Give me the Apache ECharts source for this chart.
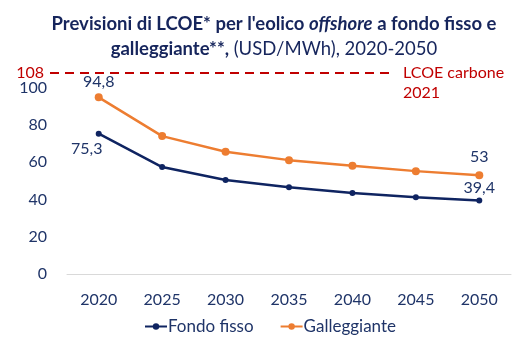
<!DOCTYPE html>
<html>
<head>
<meta charset="utf-8">
<script src="https://cdn.jsdelivr.net/npm/echarts@6/dist/echarts.min.js"></script>
<style>
  html, body { margin: 0; padding: 0; background: #ffffff; }
  #chart { width: 520px; height: 348px; }
</style>
</head>
<body>
<div id="chart"></div>
<script>
// Years on the horizontal axis
const years = ['2020', '2025', '2030', '2035', '2040', '2045', '2050'];
// LCOE, USD/MWh
const fondoFisso = [75.3, 57.4, 50.4, 46.6, 43.5, 41.2, 39.4];
const galleggiante = [94.8, 74.0, 65.6, 61.1, 58.1, 55.2, 53.0];
// Coal LCOE reference (2021)
const carboneValue = 108;
const carboneLabel = 'LCOE carbone\n2021';
const yTicks = [0, 20, 40, 60, 80, 100];

const NAVY = '#0f2461';
const ORANGE = '#ed7d31';
const RED = '#c00000';
const TEXT = '#1f3468';
const FONT = 'Lato, "Noto Sans", sans-serif';

const fmt = v => String(v).replace('.', ',');

// Only first and last values carry a label
function withEndLabels(values, firstLabel, lastLabel) {
  return values.map((v, i) => {
    if (i === 0 && firstLabel) return { value: v, label: Object.assign({ show: true }, firstLabel) };
    if (i === values.length - 1 && lastLabel) return { value: v, label: Object.assign({ show: true }, lastLabel) };
    return v;
  });
}

const labelText = { color: TEXT, fontSize: 16, fontFamily: FONT, formatter: p => fmt(p.value) };

const chart = echarts.init(document.getElementById('chart'));
chart.setOption({
  animation: false,
  title: {
    left: 269,
    top: 7,
    textAlign: 'center',
    text: "{b|Previsioni di LCOE* per l'eolico }{bi|offshore}{b| a fondo fisso e}\n{b|galleggiante**, }{n|(USD/MWh), 2020-2050}",
    textStyle: {
      rich: {
        b: { fontFamily: FONT, fontSize: 18.5, fontWeight: 'bold', color: '#16255c', lineHeight: 25 },
        bi: { fontFamily: FONT, fontSize: 18.5, fontWeight: 'bold', fontStyle: 'italic', color: '#16255c', lineHeight: 25 },
        n: { fontFamily: FONT, fontSize: 18.5, fontWeight: 'normal', color: '#16255c', lineHeight: 25 }
      }
    }
  },
  grid: { left: 67, right: 9, top: 69, bottom: 74 },
  legend: {
    bottom: 8,
    left: 139,
    itemGap: 26,
    itemWidth: 22,
    itemHeight: 8,
    textStyle: { fontFamily: FONT, fontSize: 17, color: TEXT, padding: [0, 0, 0, -4] },
    data: ['Fondo fisso', 'Galleggiante']
  },
  xAxis: {
    type: 'category',
    data: years,
    boundaryGap: true,
    axisLine: { lineStyle: { color: '#d9d9d9', width: 1 } },
    axisTick: { show: false },
    axisLabel: { color: TEXT, fontFamily: FONT, fontSize: 16, margin: 18 }
  },
  yAxis: {
    type: 'value',
    min: yTicks[0],
    max: 110,
    interval: 20,
    axisLine: { show: false },
    axisTick: { show: false },
    splitLine: { show: false },
    axisLabel: { color: TEXT, fontFamily: FONT, fontSize: 16, margin: 20, showMaxLabel: false,
      formatter: v => (yTicks.indexOf(v) >= 0 ? String(v) : '') }
  },
  series: [
    {
      name: 'Fondo fisso',
      type: 'line',
      data: withEndLabels(fondoFisso,
        Object.assign({}, labelText, { position: 'bottom', distance: 4, offset: [-12, 0] }),
        Object.assign({}, labelText, { position: 'top', distance: 2 })),
      symbol: 'circle',
      symbolSize: 6,
      color: NAVY,
      lineStyle: { color: NAVY, width: 2.5 },
      itemStyle: { color: NAVY },
      z: 3,
      markLine: {
        silent: true,
        symbol: 'none',
        lineStyle: { color: RED, type: [9, 6], width: 2.2 },
        data: [
          [
            { x: 50, yAxis: carboneValue,
              label: { show: true, position: 'start', distance: 6, formatter: String(carboneValue),
                color: RED, fontFamily: FONT, fontSize: 16 } },
            { x: 393, yAxis: carboneValue }
          ],
          [
            { x: 50, yAxis: carboneValue,
              label: { show: true, position: 'end', distance: 10, formatter: carboneLabel,
                color: RED, fontFamily: FONT, fontSize: 16, lineHeight: 20,
                align: 'left', verticalAlign: 'top', padding: [-10, 0, 0, 0] } },
            { x: 393, yAxis: carboneValue }
          ]
        ]
      }
    },
    {
      name: 'Galleggiante',
      type: 'line',
      data: withEndLabels(galleggiante,
        Object.assign({}, labelText, { position: 'top', distance: 3 }),
        Object.assign({}, labelText, { position: 'top', distance: 6 })),
      symbol: 'circle',
      symbolSize: 8,
      color: ORANGE,
      lineStyle: { color: ORANGE, width: 2.5 },
      itemStyle: { color: ORANGE },
      z: 2
    }
  ]
});
</script>
</body>
</html>
